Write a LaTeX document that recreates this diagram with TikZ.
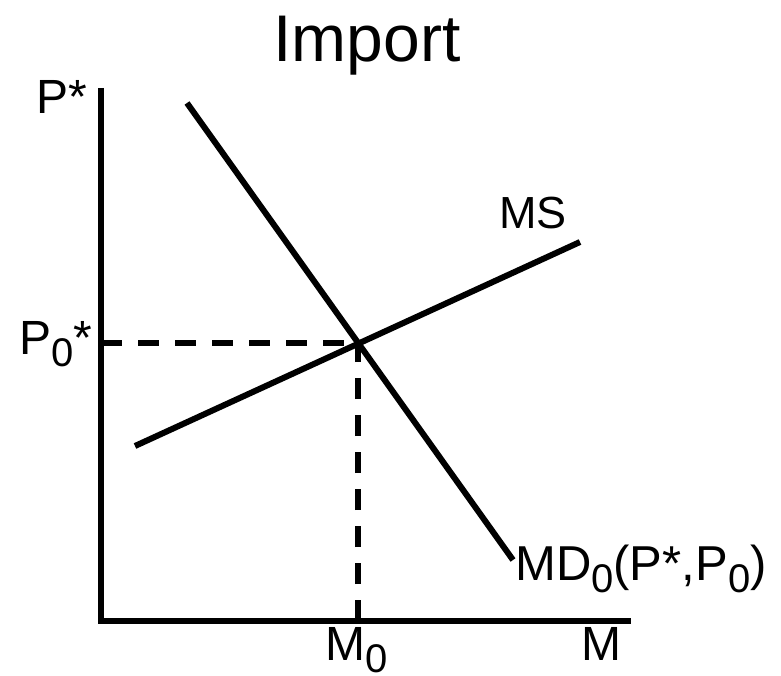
\documentclass[tikz,border=0pt]{standalone}
\usepackage{fontspec}
\setmainfont{Liberation Sans}
\newcommand{\lowsub}[1]{\raisebox{-12pt}{\fontsize{40}{40}\selectfont #1}}
\begin{document}
\begin{tikzpicture}[x=1pt,y=-1pt,
  curve/.style={line width=6pt},
  guide/.style={line width=6pt,dash pattern=on 21pt off 16pt},
  lab/.style={anchor=base west,inner sep=0pt,font=\fontsize{48}{48}\selectfont}]
\useasboundingbox (0,0) rectangle (781,676);
\node[anchor=base,inner sep=0pt,font=\fontsize{66}{66}\selectfont] (title) at (367,62) {Import};
\coordinate (ytop) at (101,88);
\coordinate (origin) at (101,621);
\coordinate (xend) at (631,621);
\coordinate (mdA) at (187,103);
\coordinate (mdB) at (513,560);
\coordinate (msA) at (135,446);
\coordinate (msB) at (580,242);
\coordinate (eq) at (358,343);
\coordinate (peq) at (101,343);
\coordinate (meq) at (358,621);
\draw[line width=6pt] (ytop) -- (origin) -- (xend);
\draw[curve] (mdA) -- (mdB);
\draw[curve] (msA) -- (msB);
\draw[guide] (peq) -- (eq);
\draw[guide] (meq) -- (eq);
\node[lab] (pstar) at (36,114) {P*};
\node[lab] (p0) at (19,354) {P\lowsub{0}*};
\node[lab,font=\fontsize{45}{45}\selectfont] (ms) at (499,229) {MS};
\node[lab,font=\fontsize{49}{49}\selectfont] (md) at (515,580) {MD\lowsub{0}(P*,P\lowsub{0})};
\node[lab] (m0) at (325,660) {M\lowsub{0}};
\node[lab] (m) at (581,660) {M};
\end{tikzpicture}
\end{document}
